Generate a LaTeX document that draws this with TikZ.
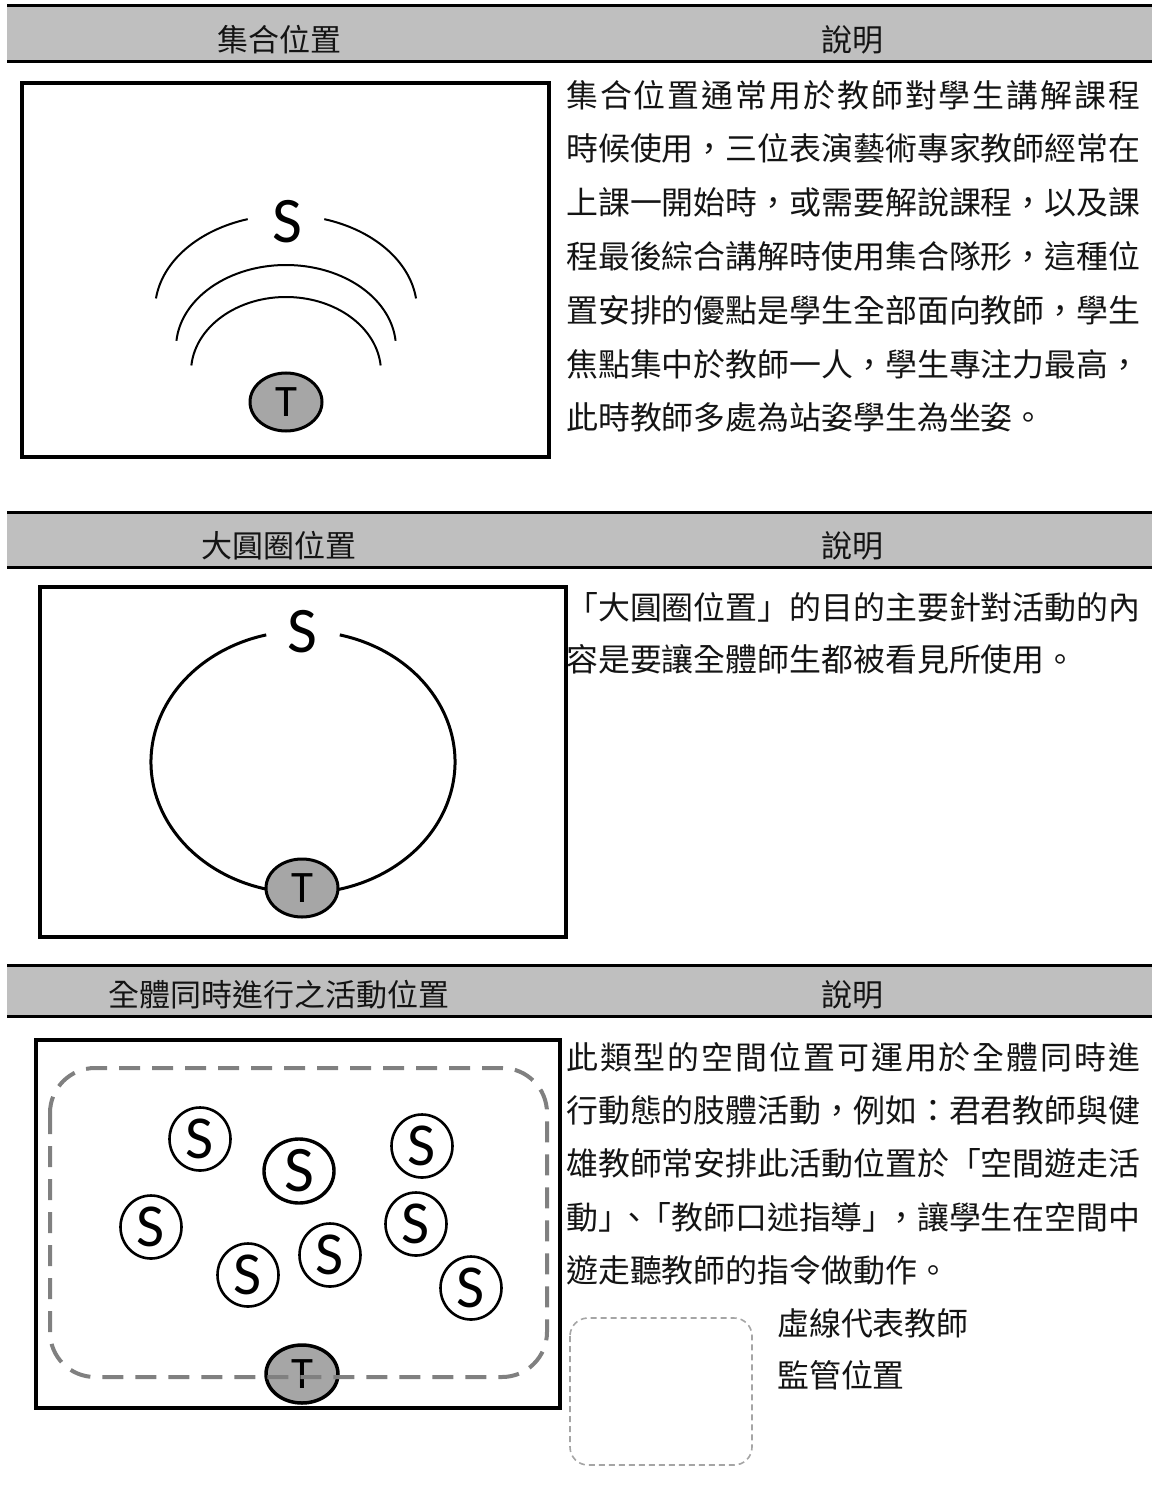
\documentclass[tikz,border=0pt]{standalone}
\usepackage{fontspec}
\usetikzlibrary{shapes.geometric}
\newfontfamily\cjk{Noto Sans CJK TC}
\newfontfamily\lat{Carlito}
\definecolor{hdrgray}{RGB}{191,191,191}
\definecolor{tgray}{RGB}{166,166,166}
\definecolor{dashgray}{RGB}{128,128,128}
\definecolor{leggray}{RGB}{165,165,165}
\definecolor{txtcol}{RGB}{20,20,20}
\newcommand\jl[1]{\makebox[574pt][l]{#1}}
\tikzset{
  hdrtxt/.style={font=\cjk\fontsize{31}{31}\selectfont, inner sep=0pt, text=txtcol},
  bodytxt/.style={font=\cjk\fontsize{31.9}{32}\selectfont, anchor=west, inner sep=0pt, text=txtcol},
  tnode/.style={ellipse, draw, line width=3pt, fill=tgray, minimum width=72pt, minimum height=58pt, inner sep=0pt, font=\lat\fontsize{45}{45}\selectfont},
  snode/.style={ellipse, draw, line width=2.6pt, minimum width=61pt, minimum height=63pt, inner sep=0pt, font=\lat\fontsize{61}{61}\selectfont},
  bigsnode/.style={snode, line width=3.4pt, minimum width=70pt, minimum height=64pt, font=\lat\fontsize{65}{65}\selectfont},
  stxt/.style={inner sep=0pt, font=\lat\fontsize{65}{65}\selectfont},
  frame/.style={draw, line width=4pt},
  hdrline/.style={line width=3pt},
  arcline/.style={line width=2pt},
}
\begin{document}
\begin{tikzpicture}[x=1pt,y=-1pt]
\useasboundingbox (0,0) rectangle (1152,1495);

% ---------- Section 1 ----------
\fill[hdrgray] (7,6) rectangle (1152,62);
\draw[hdrline] (7,6) -- (1152,6);
\draw[hdrline] (7,62) -- (1152,62);
\node[hdrtxt] (h1a) at (279,40) {集合位置};
\node[hdrtxt] (h1b) at (852,40) {說明};

\draw[frame] (22,83) rectangle (549,457);
\node[stxt] (s1) at (287,222) {S};
\draw[arcline] (286,372) ++(185:95 and 75) arc[start angle=185, end angle=355, x radius=95, y radius=75];
\draw[arcline] (286,348) ++(185:110 and 83) arc[start angle=185, end angle=355, x radius=110, y radius=83];
\draw[arcline] (286,310) ++(187:131 and 95) arc[start angle=187, end angle=253, x radius=131, y radius=95];
\draw[arcline] (286,310) ++(287:131 and 95) arc[start angle=287, end angle=353, x radius=131, y radius=95];
\node[tnode] (t1) at (286,402) {T};

\node[bodytxt] (p1a) at (566,95) {\jl{集\hfill 合\hfill 位\hfill 置\hfill 通\hfill 常\hfill 用\hfill 於\hfill 教\hfill 師\hfill 對\hfill 學\hfill 生\hfill 講\hfill 解\hfill 課\hfill 程}};
\node[bodytxt] (p1b) at (566,148.8) {時候使用，三位表演藝術專家教師經常在};
\node[bodytxt] (p1c) at (566,202.6) {上課一開始時，或需要解說課程，以及課};
\node[bodytxt] (p1d) at (566,256.4) {程最後綜合講解時使用集合隊形，這種位};
\node[bodytxt] (p1e) at (566,310.2) {置安排的優點是學生全部面向教師，學生};
\node[bodytxt] (p1f) at (566,364) {焦點集中於教師一人，學生專注力最高，};
\node[bodytxt] (p1g) at (566,417.8) {此時教師多處為站姿學生為坐姿。};

% ---------- Section 2 ----------
\fill[hdrgray] (7,512) rectangle (1152,567);
\draw[hdrline] (7,512) -- (1152,512);
\draw[hdrline] (7,567) -- (1152,567);
\node[hdrtxt] (h2a) at (279,546) {大圓圈位置};
\node[hdrtxt] (h2b) at (852,546) {說明};

\draw[frame] (40,587) rectangle (566,937);
\draw[line width=3pt] (303,762) ++(284:152 and 131) arc[start angle=284, end angle=616, x radius=152, y radius=131];
\node[stxt] (s2) at (302,632) {S};
\node[tnode] (t2) at (302,888) {T};

\node[bodytxt] (p2a) at (566,607) {「大圓圈位置」的目的主要針對活動的內};
\node[bodytxt] (p2b) at (566,659) {容是要讓全體師生都被看見所使用。};

% ---------- Section 3 ----------
\fill[hdrgray] (7,965) rectangle (1152,1016);
\draw[hdrline] (7,965) -- (1152,965);
\draw[hdrline] (7,1016) -- (1152,1016);
\node[hdrtxt] (h3a) at (279,995) {全體同時進行之活動位置};
\node[hdrtxt] (h3b) at (852,995) {說明};

\draw[frame] (36,1040) rectangle (560,1408);
\node[snode] (sa) at (200,1139) {S};
\node[bigsnode] (sb) at (299,1171) {S};
\node[snode] (sc) at (422,1146) {S};
\node[snode] (sd) at (151,1227) {S};
\node[snode] (se) at (248,1275) {S};
\node[snode] (sf) at (330,1255) {S};
\node[snode] (sg) at (416,1224) {S};
\node[snode] (sh) at (471,1288) {S};
\node[tnode, line width=3.5pt] (t3) at (302,1374) {T};
\draw[dashgray, line width=4pt, dash pattern=on 21pt off 12pt, rounded corners=45pt] (50,1068) rectangle (547,1377);

\node[bodytxt] (p3a) at (566,1057) {\jl{此\hfill 類\hfill 型\hfill 的\hfill 空\hfill 間\hfill 位\hfill 置\hfill 可\hfill 運\hfill 用\hfill 於\hfill 全\hfill 體\hfill 同\hfill 時\hfill 進}};
\node[bodytxt] (p3b) at (566,1110.3) {行動態的肢體活動，例如：君君教師與健};
\node[bodytxt] (p3c) at (566,1163.6) {雄教師常安排此活動位置於「空間遊走活};
\node[bodytxt] (p3d) at (566,1216.9) {動」\kern-.35em、\kern-.35em「教師口述指導」\kern-.3em，讓學生在空間中};
\node[bodytxt] (p3e) at (566,1270.2) {遊走聽教師的指令做動作。};

\draw[leggray, line width=1.6pt, dash pattern=on 6pt off 4pt, rounded corners=18pt] (570,1318) rectangle (752,1465);
\node[bodytxt] (lg1) at (777,1323) {虛線代表教師};
\node[bodytxt] (lg2) at (777,1375) {監管位置};
\end{tikzpicture}
\end{document}
